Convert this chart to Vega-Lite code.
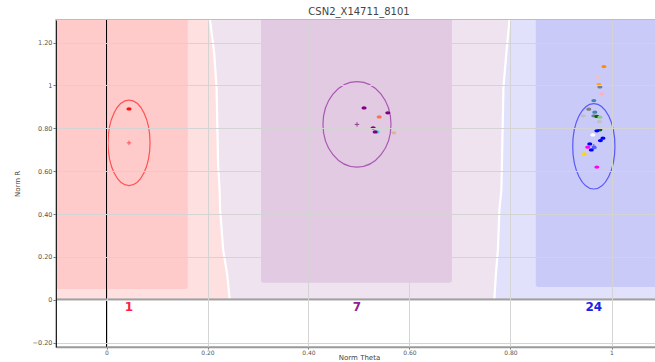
{
  "$schema": "https://vega.github.io/schema/vega-lite/v6.json",
  "width": 606,
  "height": 327,
  "autosize": "none",
  "padding": {"left": 56, "top": 20, "right": 0, "bottom": 15},
  "title": {"text": "CSN2_X14711_8101", "fontSize": 10, "fontWeight": "normal", "color": "#444444", "offset": -1, "anchor": "middle", "font": "DejaVu Sans"},
  "datasets": {
    "halos": [
      {"zone": "AA", "lo": -0.1, "hi": 0.26, "rlo": 0, "rhi": 1.305},
      {"zone": "BB", "lo": 0.75, "hi": 1.1, "rlo": 0, "rhi": 1.305}
    ],
    "band": [
      {"r": 0, "lo": 0.244, "hi": 0.768},
      {"r": 0.117, "lo": 0.239, "hi": 0.771},
      {"r": 0.233, "lo": 0.231, "hi": 0.775},
      {"r": 0.42, "lo": 0.225, "hi": 0.778},
      {"r": 0.513, "lo": 0.224, "hi": 0.782},
      {"r": 0.63, "lo": 0.221, "hi": 0.783},
      {"r": 0.988, "lo": 0.218, "hi": 0.786},
      {"r": 1.156, "lo": 0.213, "hi": 0.792},
      {"r": 1.305, "lo": 0.205, "hi": 0.798}
    ],
    "cores": [
      {"zone": "AA", "lo": -0.1, "hi": 0.161, "rlo": 0.05, "rhi": 1.305},
      {"zone": "AB", "lo": 0.306, "hi": 0.684, "rlo": 0.08, "rhi": 1.305},
      {"zone": "BB", "lo": 0.85, "hi": 1.1, "rlo": 0.06, "rhi": 1.305}
    ],
    "clusters": [
      {"zone": "AA", "theta": 0.0446, "r": 0.732, "n": "1"},
      {"zone": "AB", "theta": 0.496, "r": 0.818, "n": "7"},
      {"zone": "BB", "theta": 0.965, "r": 0.716, "n": "24"}
    ],
    "samples": [
      {"theta": 0.0446, "r": 0.89, "grp": "G1"},
      {"theta": 0.51, "r": 0.895, "grp": "G2"},
      {"theta": 0.54, "r": 0.853, "grp": "G3"},
      {"theta": 0.557, "r": 0.872, "grp": "G2"},
      {"theta": 0.528, "r": 0.802, "grp": "G2"},
      {"theta": 0.536, "r": 0.783, "grp": "G4"},
      {"theta": 0.532, "r": 0.783, "grp": "G2"},
      {"theta": 0.569, "r": 0.779, "grp": "G5"},
      {"theta": 0.985, "r": 1.088, "grp": "G6"},
      {"theta": 0.973, "r": 1.038, "grp": "G7"},
      {"theta": 0.975, "r": 1.004, "grp": "G8"},
      {"theta": 0.977, "r": 0.993, "grp": "G9"},
      {"theta": 0.981, "r": 0.96, "grp": "G10"},
      {"theta": 0.965, "r": 0.929, "grp": "G11"},
      {"theta": 0.955, "r": 0.889, "grp": "G12"},
      {"theta": 0.967, "r": 0.875, "grp": "G11"},
      {"theta": 0.944, "r": 0.858, "grp": "G13"},
      {"theta": 0.965, "r": 0.858, "grp": "G9"},
      {"theta": 0.971, "r": 0.855, "grp": "G14"},
      {"theta": 0.977, "r": 0.852, "grp": "G15"},
      {"theta": 0.976, "r": 0.831, "grp": "G13"},
      {"theta": 0.977, "r": 0.793, "grp": "G14"},
      {"theta": 0.971, "r": 0.788, "grp": "G16"},
      {"theta": 0.963, "r": 0.769, "grp": "G17"},
      {"theta": 0.983, "r": 0.754, "grp": "G16"},
      {"theta": 0.978, "r": 0.743, "grp": "G16"},
      {"theta": 0.957, "r": 0.727, "grp": "G16"},
      {"theta": 0.953, "r": 0.712, "grp": "G18"},
      {"theta": 0.966, "r": 0.71, "grp": "G20"},
      {"theta": 0.96, "r": 0.699, "grp": "G16"},
      {"theta": 0.946, "r": 0.681, "grp": "G19"},
      {"theta": 0.971, "r": 0.619, "grp": "G18"}
    ]
  },
  "layer": [
    {
      "data": {"name": "halos"},
      "mark": {"type": "rect"},
      "encoding": {
        "x": {"field": "lo", "type": "quantitative", "scale": {"domain": [-0.1, 1.1], "nice": false, "zero": false},
          "axis": {"title": "Norm Theta", "values": [0, 0.2, 0.4, 0.6, 0.8, 1],
            "labelExpr": "datum.value == 0 ? '0' : datum.value == 1 ? '1' : format(datum.value, '.2f')",
            "labelFontSize": 6, "labelColor": "#555555", "labelFont": "DejaVu Sans", "labelPadding": 0,
            "tickSize": 2, "tickColor": "#777777", "domainColor": "#999999", "domainWidth": 1.5,
            "titleFont": "DejaVu Sans", "titleFontSize": 7, "titleFontWeight": "normal", "titleColor": "#444444", "titlePadding": -2,
            "grid": true, "gridColor": "#d4d4d4",
            "zindex": 1}},
        "x2": {"field": "hi"},
        "y": {"field": "rlo", "type": "quantitative", "scale": {"domain": [-0.22, 1.305], "nice": false, "zero": false},
          "axis": {"title": "Norm R", "values": [-0.2, 0, 0.2, 0.4, 0.6, 0.8, 1, 1.2],
            "labelExpr": "datum.value == 0 ? '0' : datum.value == 1 ? '1' : format(datum.value, '.2f')",
            "labelFontSize": 6.5, "labelColor": "#555555", "labelFont": "DejaVu Sans", "labelPadding": 1,
            "tickSize": 3, "tickColor": "#777777", "domainColor": "#222222",
            "titleFont": "DejaVu Sans", "titleFontSize": 7, "titleFontWeight": "normal", "titleColor": "#444444", "titlePadding": 12,
            "grid": true, "gridColor": "#d4d4d4",
            "zindex": 1}},
        "y2": {"field": "rhi"},
        "color": {"field": "zone", "type": "nominal", "legend": null,
          "scale": {"domain": ["AA", "BB"], "range": ["#ffe0e0", "#e1e1fb"]}}
      }
    },
    {
      "data": {"name": "band"},
      "mark": {"type": "area", "orient": "horizontal", "color": "#efe3f0", "opacity": 1},
      "encoding": {
        "y": {"field": "r", "type": "quantitative", "scale": {"domain": [-0.22, 1.305], "nice": false, "zero": false}},
        "x": {"field": "lo", "type": "quantitative", "scale": {"domain": [-0.1, 1.1], "nice": false, "zero": false}},
        "x2": {"field": "hi"}
      }
    },
    {
      "data": {"name": "band"},
      "transform": [{"fold": ["lo", "hi"], "as": ["edge", "theta"]}],
      "mark": {"type": "line", "color": "#ffffff", "strokeWidth": 2.2},
      "encoding": {
        "y": {"field": "r", "type": "quantitative", "scale": {"domain": [-0.22, 1.305], "nice": false, "zero": false}},
        "x": {"field": "theta", "type": "quantitative", "scale": {"domain": [-0.1, 1.1], "nice": false, "zero": false}},
        "detail": {"field": "edge", "type": "nominal"},
        "order": {"field": "r", "type": "quantitative"}
      }
    },
    {
      "data": {"name": "cores"},
      "mark": {"type": "rect", "cornerRadiusBottomLeft": 2.5, "cornerRadiusBottomRight": 2.5},
      "encoding": {
        "x": {"field": "lo", "type": "quantitative", "scale": {"domain": [-0.1, 1.1], "nice": false, "zero": false}},
        "x2": {"field": "hi"},
        "y": {"field": "rlo", "type": "quantitative", "scale": {"domain": [-0.22, 1.305], "nice": false, "zero": false}},
        "y2": {"field": "rhi"},
        "color": {"field": "zone", "type": "nominal", "legend": null,
          "scale": {"domain": ["AA", "AB", "BB"], "range": ["#ffcaca", "#e1cae2", "#cacaf9"]}}
      }
    },
    {
      "data": {"name": "clusters"},
      "mark": {"type": "point", "filled": false, "strokeWidth": 1.2, "size": 7300},
      "encoding": {
        "x": {"field": "theta", "type": "quantitative", "scale": {"domain": [-0.1, 1.1], "nice": false, "zero": false}},
        "y": {"field": "r", "type": "quantitative", "scale": {"domain": [-0.22, 1.305], "nice": false, "zero": false}},
        "color": {"field": "zone", "type": "nominal", "legend": null,
          "scale": {"domain": ["AA", "AB", "BB"], "range": ["#ff2020", "#9428a0", "#2828ff"]}},
        "shape": {"field": "zone", "type": "nominal", "legend": null,
          "scale": {"domain": ["AA", "AB", "BB"], "range": [
            "M0.492,0C0.492,0.5523 0.2717,1 0,1C-0.2717,1 -0.492,0.5523 -0.492,0C-0.492,-0.5523 -0.2717,-1 0,-1C0.2717,-1 0.492,-0.5523 0.492,0Z",
            "M0.796,0C0.796,0.5523 0.4397,1 0,1C-0.4397,1 -0.796,0.5523 -0.796,0C-0.796,-0.5523 -0.4397,-1 0,-1C0.4397,-1 0.796,-0.5523 0.796,0Z",
            "M0.494,0C0.494,0.5523 0.2728,1 0,1C-0.2728,1 -0.494,0.5523 -0.494,0C-0.494,-0.5523 -0.2728,-1 0,-1C0.2728,-1 0.494,-0.5523 0.494,0Z"
          ]}}
      }
    },
    {
      "data": {"name": "clusters"},
      "mark": {"type": "point", "filled": false, "strokeWidth": 1, "size": 20, "shape": "M-1,0H1M0,-1V1"},
      "encoding": {
        "x": {"field": "theta", "type": "quantitative", "scale": {"domain": [-0.1, 1.1], "nice": false, "zero": false}},
        "y": {"field": "r", "type": "quantitative", "scale": {"domain": [-0.22, 1.305], "nice": false, "zero": false}},
        "color": {"field": "zone", "type": "nominal", "legend": null,
          "scale": {"domain": ["AA", "AB", "BB"], "range": ["#ff2020", "#6a106a", "#2020d0"]}}
      }
    },
    {
      "data": {"name": "samples"},
      "mark": {"type": "point", "filled": true, "opacity": 1, "size": 25,
        "shape": "M1,0C1,0.359 0.5523,0.65 0,0.65C-0.5523,0.65 -1,0.359 -1,0C-1,-0.359 -0.5523,-0.65 0,-0.65C0.5523,-0.65 1,-0.359 1,0Z"},
      "encoding": {
        "x": {"field": "theta", "type": "quantitative", "scale": {"domain": [-0.1, 1.1], "nice": false, "zero": false}},
        "y": {"field": "r", "type": "quantitative", "scale": {"domain": [-0.22, 1.305], "nice": false, "zero": false}},
        "color": {"field": "grp", "type": "nominal", "legend": null,
          "scale": {"domain": ["G1", "G2", "G3", "G4", "G5", "G6", "G7", "G8", "G9", "G10", "G11", "G12", "G13", "G14", "G15", "G16", "G17", "G18", "G19", "G20"],
            "range": ["#ff1010", "#800080", "#ff7050", "#40d8e0", "#d8b890", "#ff8c00", "#f0c0c8", "#ffa020", "#708090", "#ffb0c0", "#4682b4", "#808080", "#c0c0c0", "#006400", "#90c890", "#0000ff", "#ffffff", "#ff00ff", "#ffd700", "#5060ff"]}}
      }
    },
    {
      "data": {"name": "clusters"},
      "mark": {"type": "rule", "color": "#000000", "strokeWidth": 1},
      "encoding": {
        "x": {"datum": 0, "type": "quantitative", "scale": {"domain": [-0.1, 1.1], "nice": false, "zero": false}}
      }
    },
    {
      "data": {"name": "clusters"},
      "mark": {"type": "rule", "color": "#a0a0a0", "strokeWidth": 2},
      "encoding": {
        "y": {"datum": 0, "type": "quantitative", "scale": {"domain": [-0.22, 1.305], "nice": false, "zero": false}}
      }
    },
    {
      "data": {"name": "clusters"},
      "mark": {"type": "text", "font": "DejaVu Sans", "fontSize": 12, "fontWeight": "bold", "baseline": "middle", "align": "center"},
      "encoding": {
        "x": {"field": "theta", "type": "quantitative", "scale": {"domain": [-0.1, 1.1], "nice": false, "zero": false}},
        "y": {"datum": -0.033, "type": "quantitative", "scale": {"domain": [-0.22, 1.305], "nice": false, "zero": false}},
        "text": {"field": "n", "type": "nominal"},
        "color": {"field": "zone", "type": "nominal", "legend": null,
          "scale": {"domain": ["AA", "AB", "BB"], "range": ["#ff2040", "#902090", "#2020e8"]}}
      }
    }
  ],
  "resolve": {"scale": {"color": "independent", "shape": "independent"}},
  "config": {
    "view": {"stroke": "#a8a8a8", "strokeWidth": 1.5},
    "font": "DejaVu Sans"
  }
}
